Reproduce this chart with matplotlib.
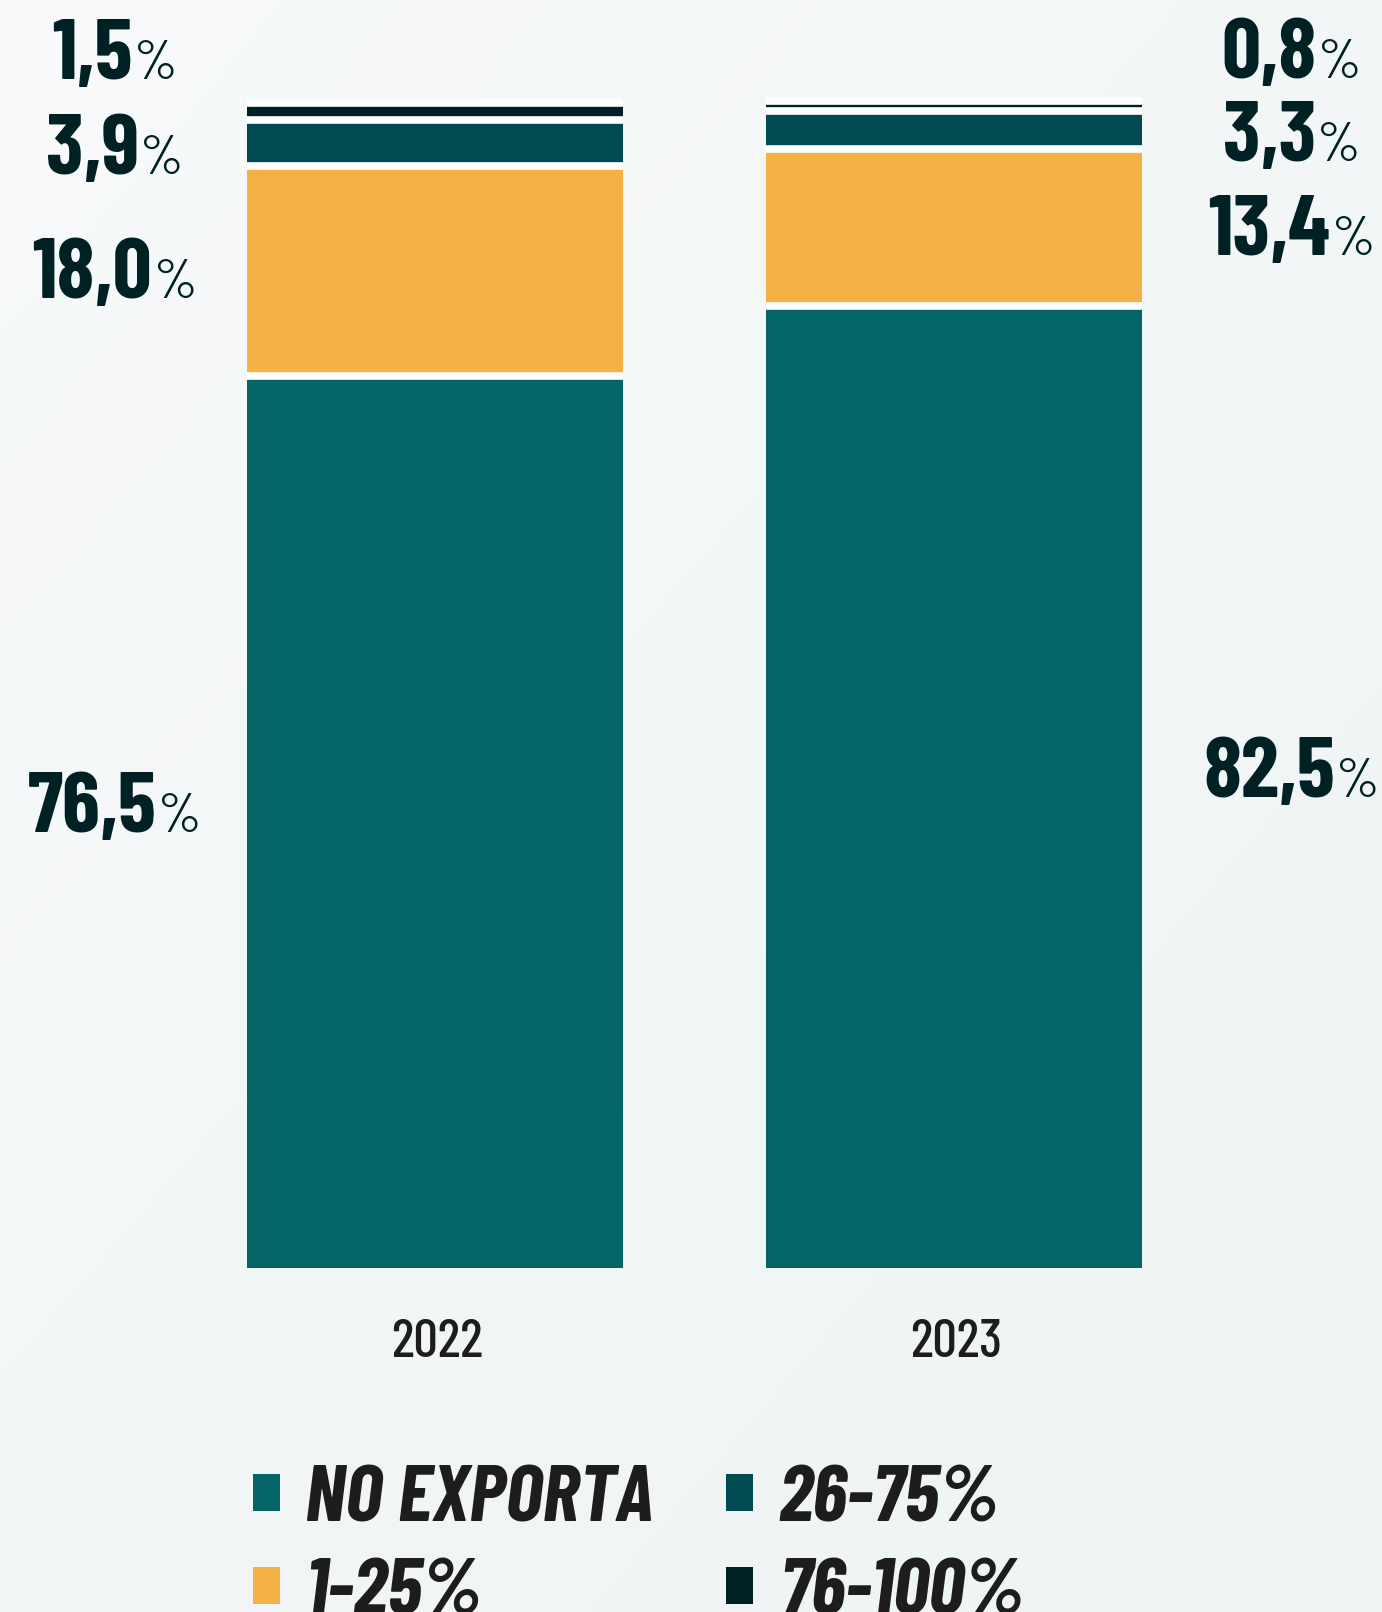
import matplotlib
matplotlib.use("Agg")
import matplotlib.pyplot as plt
import numpy as np
from matplotlib.patches import Patch
from matplotlib.offsetbox import TextArea, HPacker, AnnotationBbox

# data
years = ["2022", "2023"]
categories = ["NO EXPORTA", "1-25%", "26-75%", "76-100%"]
no_exporta = [76.5, 82.5]
pct_1_25 = [18.0, 13.4]
pct_26_75 = [3.9, 3.3]
pct_76_100 = [1.5, 0.8]

colors = ["#03646a", "#f4b146", "#004b52", "#002124"]
label_color = "#002124"
text_color = "#1d1d1b"
family = ["Barlow Condensed", "Liberation Sans", "DejaVu Sans"]

W, H, DPI = 13.82, 16.12, 100
fig = plt.figure(figsize=(W, H), dpi=DPI)

# soft background gradient
bg = fig.add_axes([0, 0, 1, 1], zorder=-10)
gx, gy = np.meshgrid(np.linspace(0, 1, 200), np.linspace(0, 1, 200))
g = 0.5 * gx + 0.5 * gy
c0 = np.array([0xf8, 0xfa, 0xfb]) / 255
c1 = np.array([0xee, 0xf3, 0xf4]) / 255
img = c0[None, None, :] * (1 - g[..., None]) + c1[None, None, :] * g[..., None]
bg.imshow(img, aspect="auto", extent=[0, 1, 0, 1])
bg.axis("off")

# main axes: bottom of bars at 1268 px from top
ax = fig.add_axes([0, (1612 - 1268) / 1612, 1, 1268 / 1612])
ax.patch.set_alpha(0)
x = np.arange(len(years))
width = 0.724
series = [no_exporta, pct_1_25, pct_26_75, pct_76_100]
bottom = np.zeros(len(years))
for vals, c, name in zip(series, colors, categories):
    ax.bar(x, vals, bottom=bottom, width=width, color=c, linewidth=0, label=name)
    bottom += np.array(vals)
    # white gap on top of each segment
    ax.hlines(bottom, x - width / 2, x + width / 2, color="white", linewidth=5.5)
totals = bottom.copy()

ax.set_xlim(-0.838, 1.825)
ax.set_ylim(0, 108.7)
ax.axis("off")

# value labels
def fmt(v):
    return f"{v:.1f}".replace(".", ",")

label_dx = [-0.617, 0.651]
y_shift = [1.0, -0.5, -0.8]   # nudges for the in-bar segments
for i in range(len(years)):
    base = 0.0
    for j, vals in enumerate(series):
        v = vals[i]
        if j == len(series) - 1:
            y = totals[i] + 3.9
        else:
            y = base + v / 2 + y_shift[j]
        base += v
        num = TextArea(fmt(v), textprops=dict(family=family, weight="bold",
                                             size=62, color=label_color))
        pct = TextArea("%", textprops=dict(family=family, weight="normal",
                                          size=40, color=label_color))
        box = HPacker(children=[num, pct], align="baseline", pad=0, sep=1)
        ab = AnnotationBbox(box, (x[i] + label_dx[i], y), xycoords="data",
                            frameon=False, box_alignment=(0.5, 0.5),
                            annotation_clip=False)
        ax.add_artist(ab)

# year labels
for i, yr in enumerate(years):
    ax.text(x[i] + 0.005, -6.4, yr, ha="center", va="center", family=family,
            weight="medium", size=39, color=text_color, clip_on=False)

# legend
handles = [Patch(facecolor=c, edgecolor="none") for c in colors]
fig.legend(handles, categories, ncol=2, loc="upper left",
           bbox_to_anchor=(253 / 1382, 0.091), frameon=False,
           prop=dict(family=family, weight="bold", style="italic", size=58),
           labelcolor=text_color, handlelength=0.33, handleheight=0.33,
           handletextpad=0.32, columnspacing=0.9, labelspacing=0.28,
           borderpad=0, borderaxespad=0)

fig.savefig("out.png", dpi=DPI)
